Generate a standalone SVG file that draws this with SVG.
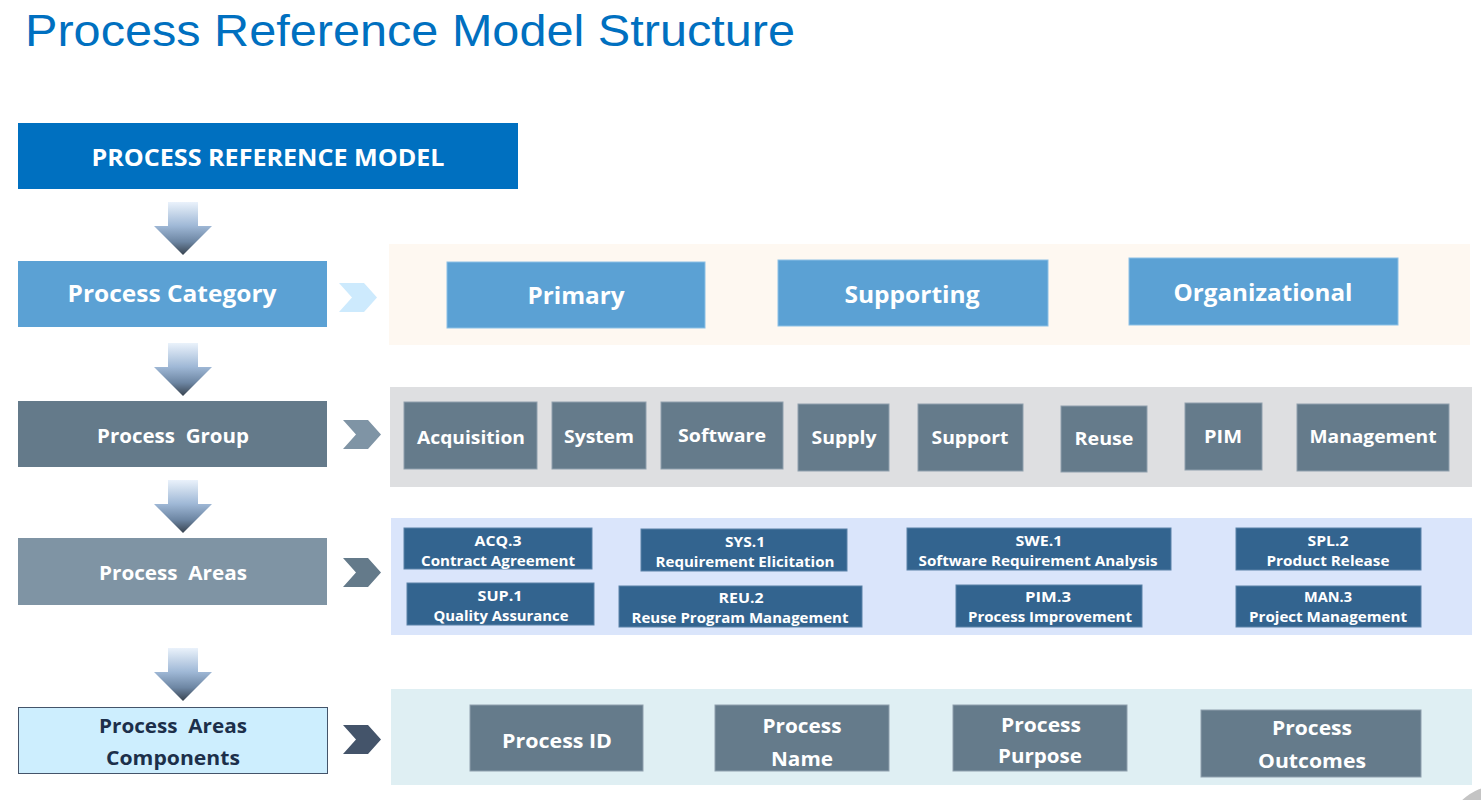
<svg xmlns="http://www.w3.org/2000/svg" width="1481" height="800" viewBox="0 0 1481 800">
<defs>
<linearGradient id="darr" x1="0" y1="0" x2="0" y2="1">
<stop offset="0" stop-color="#eaf2fb"/>
<stop offset="0.45" stop-color="#9fb8d6"/>
<stop offset="0.75" stop-color="#6d86a3"/>
<stop offset="1" stop-color="#38434f"/>
</linearGradient>
<path id="down" d="M168,0 H198 V24 H212 L183,53 L154,24 H168 Z"/>
<path id="chev" d="M0,0 H25 L38,14.5 L25,29 H0 L13,14.5 Z"/>
</defs>
<style>
text{font-family:"Open Sans","Liberation Sans",sans-serif;font-weight:700;text-anchor:middle;fill:#ffffff}
.title{font-family:"Liberation Sans",Arial,sans-serif;font-weight:400;text-anchor:start;fill:#0070c0;font-size:44px}
.hdr{font-size:23px}
.cat{fill:#5ba1d4;stroke:#8cc0e6;stroke-width:1}
.grp{fill:#657b8b;stroke:#8fa0ad;stroke-width:1}
.area{fill:#33648f;stroke:#5a82a8;stroke-width:1}
.t24{font-size:24px}
.t20{font-size:20px}
.t19{font-size:19px}
.t18{font-size:18px}
.t14{font-size:14px}
.dark{fill:#1c2f4a}
</style>
<rect width="1481" height="800" fill="#ffffff"/>
<text class="title" x="25" y="46" textLength="770" lengthAdjust="spacingAndGlyphs">Process Reference Model Structure</text>

<!-- panels -->
<rect x="389" y="244" width="1081" height="101" fill="#fef8f1"/>
<rect x="390" y="387" width="1082" height="100" fill="#dedfe1"/>
<rect x="391" y="518" width="1081" height="117" fill="#dae5fb"/>
<rect x="391" y="689" width="1081" height="96" fill="#dfeff3"/>

<g id="connectors">
<use href="#down" transform="translate(0,202)" fill="url(#darr)"/>
<use href="#down" transform="translate(0,343)" fill="url(#darr)"/>
<use href="#down" transform="translate(0,480)" fill="url(#darr)"/>
<use href="#down" transform="translate(0,648)" fill="url(#darr)"/>
<use href="#chev" transform="translate(339,283)" fill="#cdeafd"/>
<use href="#chev" transform="translate(343,420)" fill="#7f94a5"/>
<use href="#chev" transform="translate(343,558)" fill="#647a8a"/>
<use href="#chev" transform="translate(343,725)" fill="#44546a"/>
</g>

<g id="prm">
<rect x="18" y="123" width="500" height="66" fill="#0070c0"/>
<text class="hdr" x="268" y="166" textLength="353" lengthAdjust="spacingAndGlyphs">PROCESS REFERENCE MODEL</text>
</g>
<g id="process-category">
<rect x="18" y="261" width="309" height="66" fill="#5ba1d4"/>
<text class="t24" x="172" y="302" textLength="209" lengthAdjust="spacingAndGlyphs">Process Category</text>
</g>
<g id="process-group">
<rect x="18" y="401" width="309" height="66" fill="#647a8a"/>
<text class="t19" x="173" y="443" textLength="152" lengthAdjust="spacingAndGlyphs" xml:space="preserve">Process  Group</text>
</g>
<g id="process-areas">
<rect x="18" y="538" width="309" height="67" fill="#7f94a4"/>
<text class="t19" x="173" y="580" textLength="148" lengthAdjust="spacingAndGlyphs" xml:space="preserve">Process  Areas</text>
</g>
<g id="process-areas-components">
<rect x="18.5" y="707.5" width="309" height="66" fill="#cdeefe" stroke="#44546a" stroke-width="1"/>
<text class="t19 dark" x="173" y="733" textLength="148" lengthAdjust="spacingAndGlyphs" xml:space="preserve">Process  Areas</text>
<text class="t19 dark" x="173" y="765" textLength="134" lengthAdjust="spacingAndGlyphs">Components</text>
</g>

<!-- categories -->
<g id="primary"><rect class="cat" x="447" y="262" width="258" height="66"/><text class="t24" x="576" y="304" textLength="97" lengthAdjust="spacingAndGlyphs">Primary</text></g>
<g id="supporting"><rect class="cat" x="778" y="260" width="270" height="66"/><text class="t24" x="912" y="303" textLength="135" lengthAdjust="spacingAndGlyphs">Supporting</text></g>
<g id="organizational"><rect class="cat" x="1129" y="258" width="269" height="67"/><text class="t24" x="1263" y="301" textLength="179" lengthAdjust="spacingAndGlyphs">Organizational</text></g>

<!-- groups -->
<g id="acquisition"><rect class="grp" x="404" y="402" width="133" height="67"/><text class="t18" x="471" y="444" textLength="108" lengthAdjust="spacingAndGlyphs">Acquisition</text></g>
<g id="system"><rect class="grp" x="552" y="402" width="94" height="67"/><text class="t18" x="599" y="443" textLength="70" lengthAdjust="spacingAndGlyphs">System</text></g>
<g id="software"><rect class="grp" x="661" y="402" width="122" height="67"/><text class="t18" x="722" y="442" textLength="88" lengthAdjust="spacingAndGlyphs">Software</text></g>
<g id="supply"><rect class="grp" x="798" y="404" width="91" height="67"/><text class="t18" x="844" y="444" textLength="65" lengthAdjust="spacingAndGlyphs">Supply</text></g>
<g id="support"><rect class="grp" x="918" y="404" width="105" height="67"/><text class="t18" x="970" y="444" textLength="77" lengthAdjust="spacingAndGlyphs">Support</text></g>
<g id="reuse"><rect class="grp" x="1061" y="406" width="86" height="66"/><text class="t18" x="1104" y="445" textLength="59" lengthAdjust="spacingAndGlyphs">Reuse</text></g>
<g id="pim"><rect class="grp" x="1185" y="403" width="77" height="67"/><text class="t18" x="1223" y="443" textLength="38" lengthAdjust="spacingAndGlyphs">PIM</text></g>
<g id="management"><rect class="grp" x="1297" y="404" width="152" height="67"/><text class="t18" x="1373" y="443" textLength="127" lengthAdjust="spacingAndGlyphs">Management</text></g>

<!-- areas -->
<g id="acq3"><rect class="area" x="404" y="528" width="188" height="41"/><text class="t14" x="498" y="546" textLength="47" lengthAdjust="spacingAndGlyphs">ACQ.3</text><text class="t14" x="498" y="566" textLength="154" lengthAdjust="spacingAndGlyphs">Contract Agreement</text></g>
<g id="sys1"><rect class="area" x="641" y="529" width="206" height="42"/><text class="t14" x="745" y="547" textLength="40" lengthAdjust="spacingAndGlyphs">SYS.1</text><text class="t14" x="745" y="567" textLength="179" lengthAdjust="spacingAndGlyphs">Requirement Elicitation</text></g>
<g id="swe1"><rect class="area" x="907" y="528" width="264" height="42"/><text class="t14" x="1039" y="546" textLength="47" lengthAdjust="spacingAndGlyphs">SWE.1</text><text class="t14" x="1038" y="566" textLength="239" lengthAdjust="spacingAndGlyphs">Software Requirement Analysis</text></g>
<g id="spl2"><rect class="area" x="1236" y="528" width="185" height="42"/><text class="t14" x="1328" y="546" textLength="41" lengthAdjust="spacingAndGlyphs">SPL.2</text><text class="t14" x="1328" y="566" textLength="123" lengthAdjust="spacingAndGlyphs">Product Release</text></g>
<g id="sup1"><rect class="area" x="407" y="583" width="187" height="42"/><text class="t14" x="500" y="601" textLength="45" lengthAdjust="spacingAndGlyphs">SUP.1</text><text class="t14" x="501" y="621" textLength="135" lengthAdjust="spacingAndGlyphs">Quality Assurance</text></g>
<g id="reu2"><rect class="area" x="619" y="586" width="243" height="41"/><text class="t14" x="741" y="603" textLength="45" lengthAdjust="spacingAndGlyphs">REU.2</text><text class="t14" x="740" y="623" textLength="217" lengthAdjust="spacingAndGlyphs">Reuse Program Management</text></g>
<g id="pim3"><rect class="area" x="956" y="585" width="186" height="42"/><text class="t14" x="1048" y="602" textLength="46" lengthAdjust="spacingAndGlyphs">PIM.3</text><text class="t14" x="1050" y="622" textLength="164" lengthAdjust="spacingAndGlyphs">Process Improvement</text></g>
<g id="man3"><rect class="area" x="1236" y="586" width="185" height="41"/><text class="t14" x="1328" y="602" textLength="48" lengthAdjust="spacingAndGlyphs">MAN.3</text><text class="t14" x="1328" y="622" textLength="158" lengthAdjust="spacingAndGlyphs">Project Management</text></g>

<!-- components -->
<g id="process-id"><rect class="grp" x="470" y="705" width="173" height="66"/><text class="t20" x="557" y="748" textLength="110" lengthAdjust="spacingAndGlyphs">Process ID</text></g>
<g id="process-name"><rect class="grp" x="715" y="705" width="174" height="66"/><text class="t20" x="802" y="733" textLength="79" lengthAdjust="spacingAndGlyphs">Process</text><text class="t20" x="802" y="766" textLength="62" lengthAdjust="spacingAndGlyphs">Name</text></g>
<g id="process-purpose"><rect class="grp" x="953" y="705" width="174" height="66"/><text class="t20" x="1041" y="732" textLength="80" lengthAdjust="spacingAndGlyphs">Process</text><text class="t20" x="1040" y="763" textLength="84" lengthAdjust="spacingAndGlyphs">Purpose</text></g>
<g id="process-outcomes"><rect class="grp" x="1201" y="710" width="220" height="67"/><text class="t20" x="1312" y="735" textLength="80" lengthAdjust="spacingAndGlyphs">Process</text><text class="t20" x="1312" y="768" textLength="108" lengthAdjust="spacingAndGlyphs">Outcomes</text></g>

<circle cx="1500" cy="840" r="55" fill="#c4c4c4"/>
</svg>
